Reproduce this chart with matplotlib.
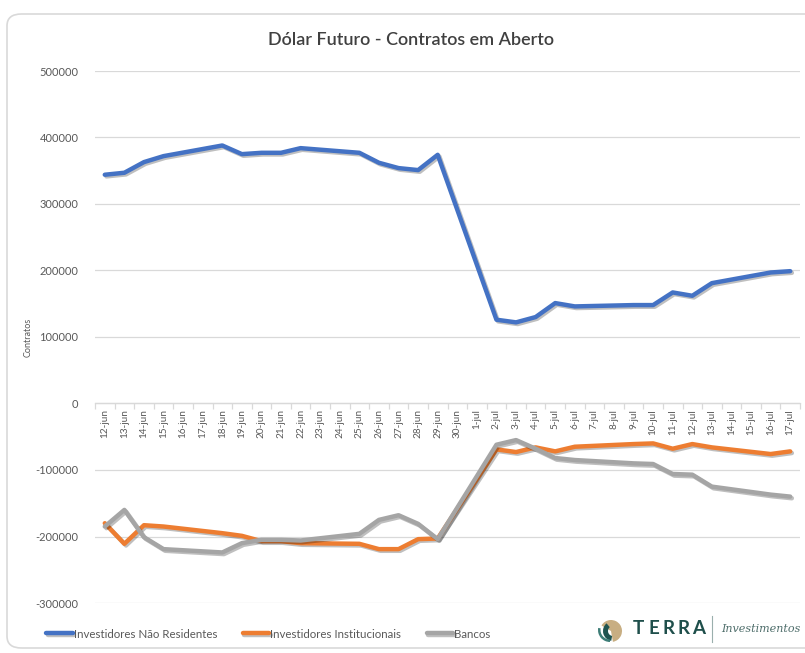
import numpy as np
import matplotlib.pyplot as plt
import matplotlib.patheffects as pe
from matplotlib.patches import FancyBboxPatch, Wedge

plt.rcParams['font.family'] = ['Lato', 'DejaVu Sans']

datas = ["12-jun", "13-jun", "14-jun", "15-jun", "16-jun", "17-jun", "18-jun",
         "19-jun", "20-jun", "21-jun", "22-jun", "23-jun", "24-jun", "25-jun",
         "26-jun", "27-jun", "28-jun", "29-jun", "30-jun", "1-jul", "2-jul",
         "3-jul", "4-jul", "5-jul", "6-jul", "7-jul", "8-jul", "9-jul",
         "10-jul", "11-jul", "12-jul", "13-jul", "14-jul", "15-jul", "16-jul",
         "17-jul"]

# fins de semana sem dado (None) -> linha liga os pregoes
nao_residentes = [344000, 347000, 363000, 372000, None, None, 388000,
                  375000, 377000, 377000, 384000, None, None, 377000,
                  362000, 354000, 351000, 374000, None, None, 126000,
                  122000, 130000, 151000, 146000, None, None, 148000,
                  148000, 167000, 162000, 181000, None, None, 197000,
                  199000]
institucionais = [-180000, -211000, -183000, -185000, None, None, -195000,
                  -199000, -207000, -207000, -210000, None, None, -211000,
                  -219000, -219000, -204000, -203000, None, None, -69000,
                  -73000, -66000, -72000, -65000, None, None, -61000,
                  -60000, -68000, -61000, -66000, None, None, -76000,
                  -72000]
bancos = [-185000, -160000, -201000, -219000, None, None, -224000,
          -210000, -205000, -205000, -206000, None, None, -196000,
          -175000, -168000, -181000, -204000, None, None, -62000,
          -55000, -68000, -82000, -85000, None, None, -90000,
          -91000, -106000, -107000, -125000, None, None, -137000,
          -140000]

series = [("Investidores Não Residentes", nao_residentes, "#4472C4"),
          ("Investidores Institucionais", institucionais, "#ED7D31"),
          ("Bancos", bancos, "#A5A5A5")]

W, H = 805, 653
fig = plt.figure(figsize=(W / 100, H / 100), dpi=100)

# moldura arredondada
frame = FancyBboxPatch((7 / W, 5 / H), 820 / W, 634 / H,
                       boxstyle="round,pad=0,rounding_size=0.018",
                       transform=fig.transFigure, fc="none", ec="#D9D9D9",
                       lw=1.2, zorder=-5)
fig.patches.append(frame)

ax = fig.add_axes([95 / W, 1 - 603 / H, 705 / W, 532 / H])
ax.set_facecolor("none")

x = np.arange(len(datas))
shadow = [pe.SimpleLineShadow(offset=(1.2, -1.2), alpha=0.25), pe.Normal()]
for nome, vals, cor in series:
    v = np.array([np.nan if a is None else a for a in vals], dtype=float)
    ok = ~np.isnan(v)
    ax.plot(x[ok], v[ok], color=cor, lw=3.2, label=nome,
            solid_joinstyle="round", solid_capstyle="round",
            path_effects=shadow, zorder=3)

ax.set_ylim(-300000, 500000)
ax.set_yticks(np.arange(-300000, 500001, 100000))
ax.set_xlim(-0.5, len(datas) - 0.5)
ax.grid(axis="y", color="#D9D9D9", lw=0.9)
ax.set_axisbelow(True)

for s in ["top", "right", "left"]:
    ax.spines[s].set_visible(False)
ax.spines["bottom"].set_position(("data", 0))
ax.spines["bottom"].set_color("#D9D9D9")
ax.spines["bottom"].set_linewidth(0.9)

ax.set_xticks(np.arange(-0.5, len(datas), 1))
ax.set_xticklabels([])
ax.set_xticks(x, minor=True)
ax.set_xticklabels(datas, minor=True, rotation=90, va="top", ha="center")
ax.tick_params(axis="x", which="major", length=4, color="#D9D9D9", width=0.9)
ax.tick_params(axis="x", which="minor", length=0, pad=4, labelsize=7.2,
               labelcolor="#595959")
ax.tick_params(axis="y", length=0, pad=12, labelsize=8, labelcolor="#595959")
ax.yaxis.set_major_formatter(plt.FuncFormatter(lambda v, p: f"{int(v)}"))

ax.set_ylabel("Contratos", fontsize=6.5, color="#595959", labelpad=2)

fig.text(411 / W, 1 - 40 / H, "Dólar Futuro - Contratos em Aberto",
         ha="center", va="center", fontsize=13, color="#404040",
         fontweight="semibold")

fig.legend(loc="center left", bbox_to_anchor=(46 / W, 1 - 634 / H), ncol=3,
           frameon=False, fontsize=8.3, handlelength=2.3, handletextpad=0.1,
           columnspacing=2.2, borderpad=0, borderaxespad=0,
           labelcolor="#595959")

# logo
lax = fig.add_axes([596 / W, 1 - 646 / H, 209 / W, 34 / H])
lax.set_xlim(596, 805)
lax.set_ylim(646, 612)
lax.axis("off")
lax.add_patch(Wedge((611, 631), 11, -150, 80, width=11, fc="#C8AE82", ec="none"))
lax.add_patch(Wedge((613, 631), 10, 100, 230, width=5, fc="#1F5450", ec="none"))
lax.add_patch(Wedge((610, 630), 12, 90, 190, width=2.5, fc="#3D7D77", ec="none"))
for i, letra in enumerate("TERRA"):
    lax.text(638.5 + 15 * i, 629, letra, fontsize=13.5, fontweight="bold",
             color="#1F4F4B", va="center", ha="center")
lax.plot([712, 712], [616, 642], color="#9AAFAD", lw=0.8)
lax.text(721, 629, "Investimentos", fontsize=8, style="italic",
         family=["DejaVu Serif"], color="#4F6E6B", va="center", ha="left")

fig.savefig("out.png", dpi=100)
